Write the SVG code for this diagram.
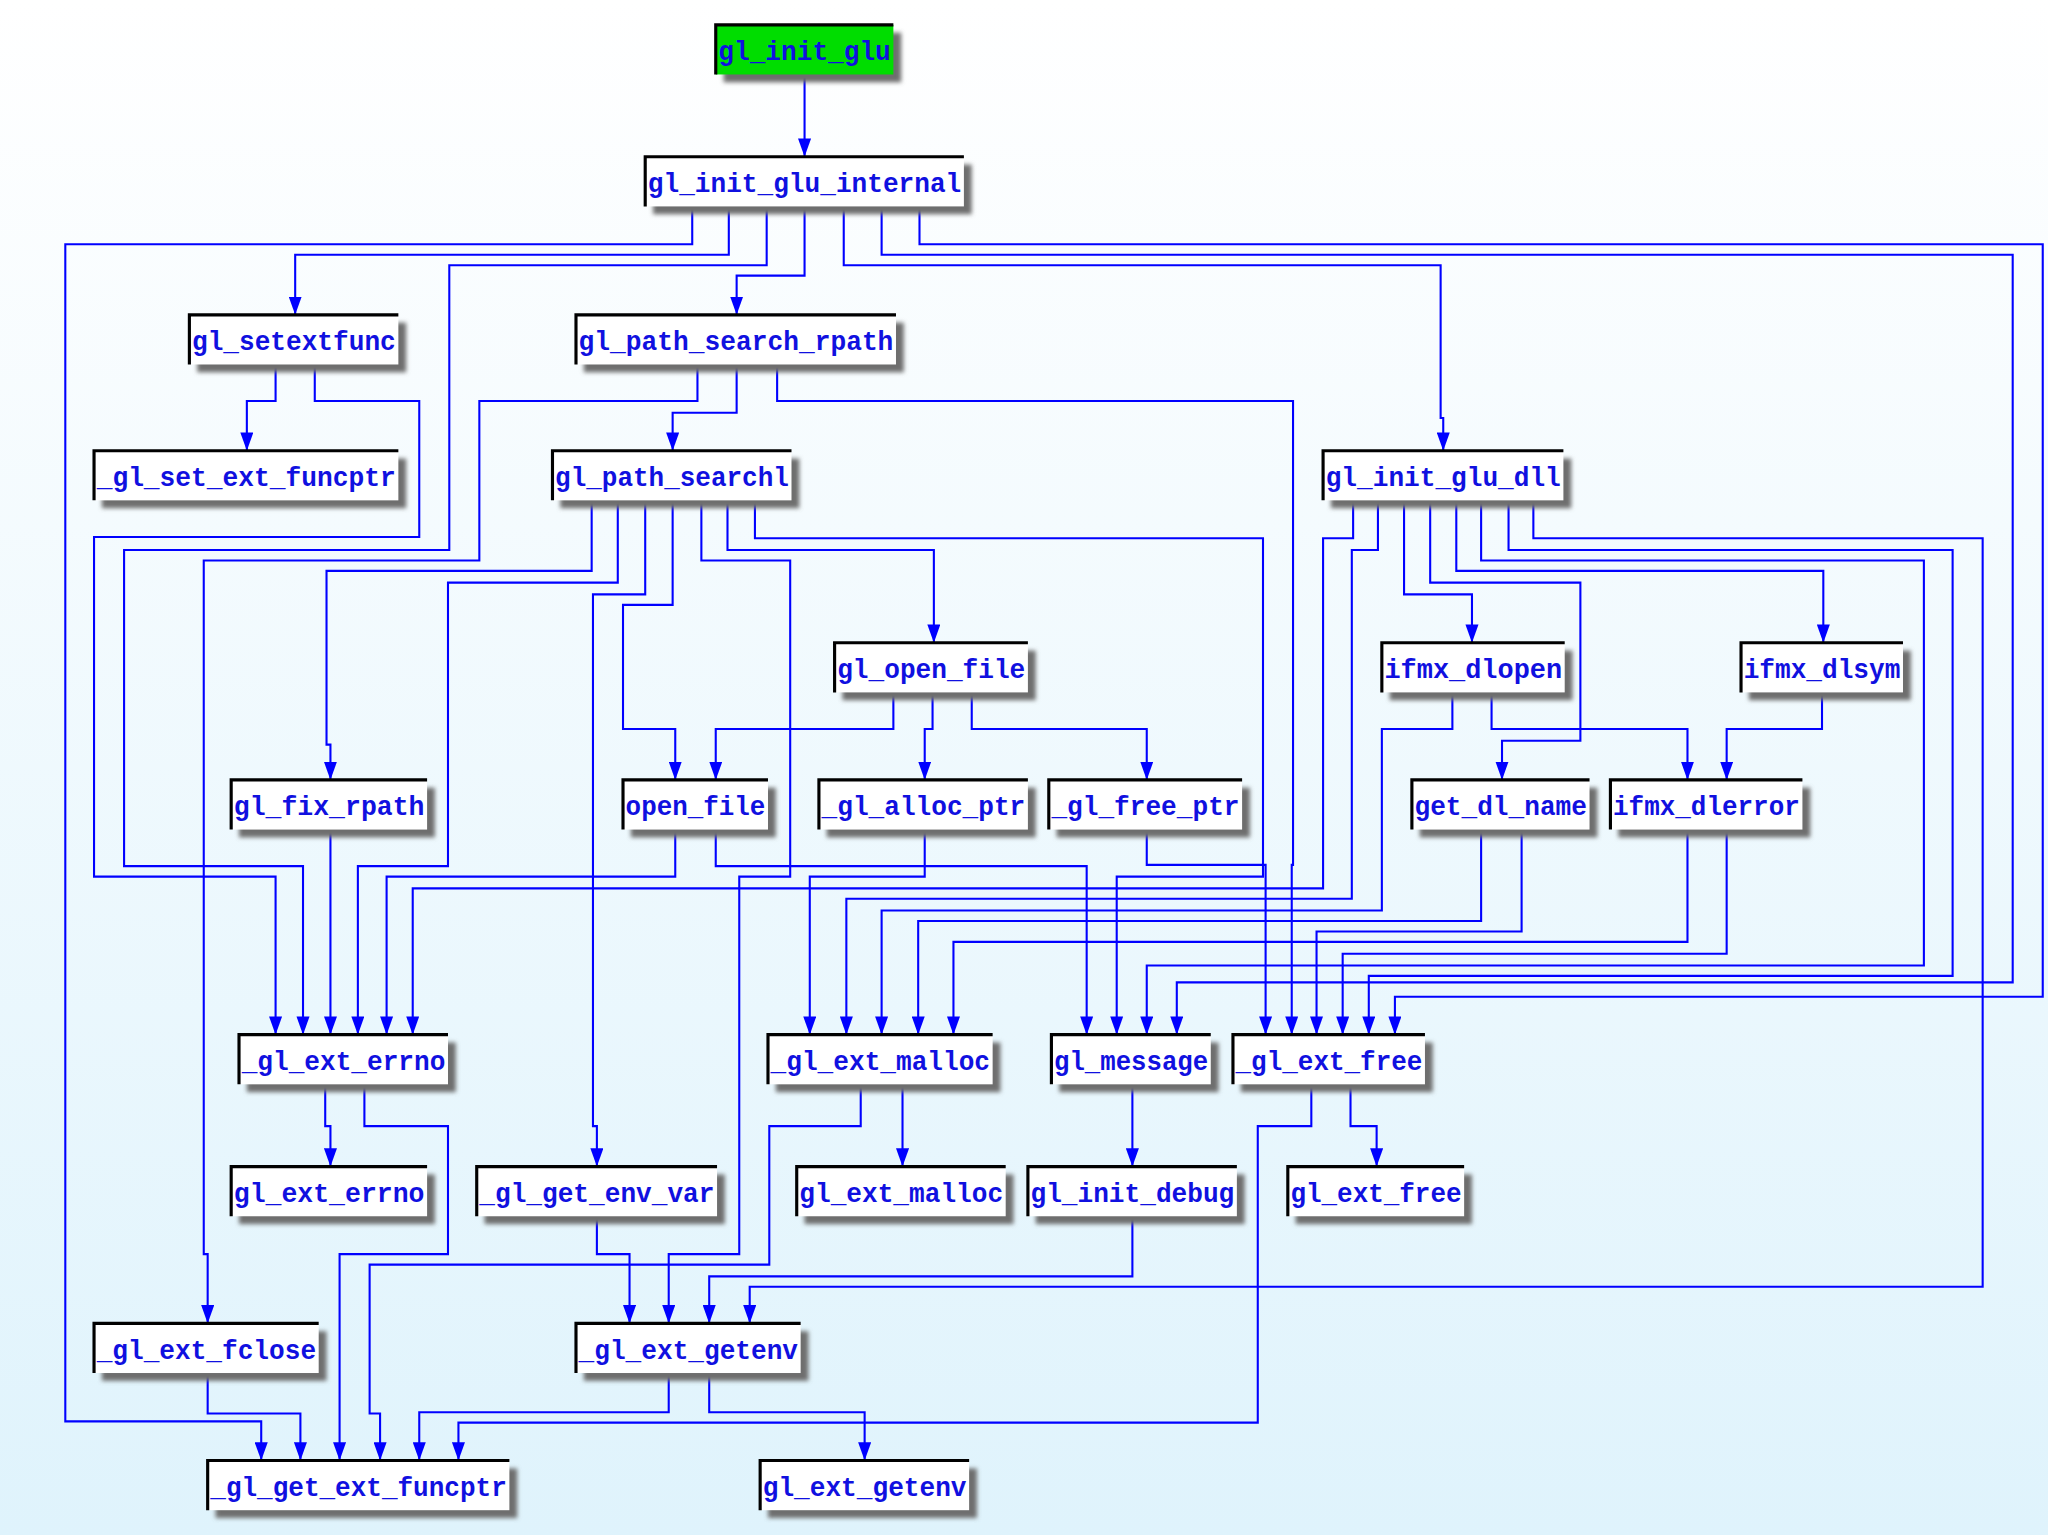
<svg xmlns="http://www.w3.org/2000/svg" width="2048" height="1535" viewBox="0 0 2048 1535">
<defs>
<linearGradient id="bg" x1="0" y1="0" x2="0" y2="1"><stop offset="0" stop-color="#ffffff"/><stop offset="1" stop-color="#dff3fc"/></linearGradient>
<marker id="ar" viewBox="0 0 10 14" refX="5" refY="14" markerWidth="10" markerHeight="14" orient="auto-start-reverse" markerUnits="userSpaceOnUse"><path d="M0,0 L10,0 L5,14 Z" fill="#0000ff" transform="rotate(-90 5 7) translate(-2 2)"/></marker>
<marker id="a" viewBox="0 0 14 10" refX="14" refY="5" markerWidth="14" markerHeight="10" orient="auto" markerUnits="userSpaceOnUse"><path d="M0,0 L14,5 L0,10 Z" fill="#0000ff"/></marker>
<filter id="sh" x="-10%" y="-10%" width="130%" height="160%"><feGaussianBlur stdDeviation="1.5"/></filter>
</defs>
<style>
.e path{fill:none;stroke:#0000ff;stroke-width:1.6;marker-end:url(#a)}
.s{fill:#6e6e6e;filter:url(#sh)}
.b{fill:#ffffff;stroke:none}
.k{fill:none;stroke:#000;stroke-width:2.4}
.t{font-family:"Liberation Mono",monospace;font-weight:bold;font-size:21px;fill:#1010e0}
</style>
<rect width="2048" height="1535" fill="url(#bg)"/>
<g transform="scale(1.3061,1.3064)">
<g class="e">
<path d="M616,57 V120"/>
<path d="M530,157 V187 H50 V1088 H200 V1118"/>
<path d="M558,157 V195 H226 V241"/>
<path d="M587,157 V203 H344 V421 H95 V663 H232 V792"/>
<path d="M616,157 V211 H564 V241"/>
<path d="M646,157 V203 H1103 V320 H1105 V345"/>
<path d="M675,157 V195 H1541 V752 H901 V792"/>
<path d="M704,157 V187 H1564 V763 H1068 V792"/>
<path d="M211,278 V307 H189 V345"/>
<path d="M241,278 V307 H321 V411 H72 V671 H211 V792"/>
<path d="M534,278 V307 H367 V429 H156 V960 H159 V1013"/>
<path d="M564,278 V316 H515 V345"/>
<path d="M595,278 V307 H990 V662 H989 V792"/>
<path d="M453,383 V437 H250 V570 H253 V597"/>
<path d="M473,383 V446 H343 V663 H274 V792"/>
<path d="M494,383 V455 H454 V862 H457 V893"/>
<path d="M515,383 V463 H477 V558 H517 V597"/>
<path d="M537,383 V429 H605 V671 H566 V960 H512 V1013"/>
<path d="M557,383 V421 H715 V492"/>
<path d="M578,383 V412 H967 V671 H855 V792"/>
<path d="M684,530 V558 H548 V597"/>
<path d="M714,530 V558 H708 V597"/>
<path d="M744,530 V558 H878 V597"/>
<path d="M517,635 V671 H296 V792"/>
<path d="M548,635 V663 H832 V792"/>
<path d="M708,635 V671 H620 V792"/>
<path d="M878,635 V662 H969 V792"/>
<path d="M1036,383 V412 H1013 V680 H316 V792"/>
<path d="M1055,383 V421 H1035 V688 H648 V792"/>
<path d="M1075,383 V455 H1127 V492"/>
<path d="M1095,383 V446 H1210 V567 H1150 V597"/>
<path d="M1115,383 V437 H1396 V492"/>
<path d="M1134,383 V429 H1473 V739 H878 V792"/>
<path d="M1155,383 V421 H1495 V747 H1048 V792"/>
<path d="M1174,383 V412 H1518 V985 H574 V1013"/>
<path d="M1112,530 V558 H1058 V697 H675 V792"/>
<path d="M1142,530 V558 H1292 V597"/>
<path d="M1395,530 V558 H1322 V597"/>
<path d="M1134,635 V705 H703 V792"/>
<path d="M1165,635 V713 H1008 V792"/>
<path d="M1292,635 V721 H730 V792"/>
<path d="M1322,635 V730 H1028 V792"/>
<path d="M253,635 V792"/>
<path d="M249,830 V862 H253 V893"/>
<path d="M279,830 V862 H343 V960 H260 V1118"/>
<path d="M457,931 V960 H482 V1013"/>
<path d="M659,830 V862 H589 V968 H283 V1082 H291 V1118"/>
<path d="M691,830 V862 H691 V893"/>
<path d="M867,830 V893"/>
<path d="M867,931 V977 H543 V1013"/>
<path d="M1004,830 V862 H963 V1089 H351 V1118"/>
<path d="M1034,830 V862 H1054 V893"/>
<path d="M159,1051 V1082 H230 V1118"/>
<path d="M512,1051 V1081 H321 V1118"/>
<path d="M543,1051 V1081 H662 V1118"/>
</g>
<g id="n1"><rect class="s" x="554" y="25" width="136" height="38"/><rect x="548" y="19" width="136" height="38" fill="#00dd00"/><path class="k" d="M548,57 V19 H684"/><text class="t" x="550" y="46" textLength="132" lengthAdjust="spacingAndGlyphs">gl_init_glu</text></g>
<g id="n2"><rect class="s" x="500" y="126" width="244" height="38"/><rect class="b" x="494" y="120" width="244" height="38"/><path class="k" d="M494,158 V120 H738"/><text class="t" x="496" y="147" textLength="240" lengthAdjust="spacingAndGlyphs">gl_init_glu_internal</text></g>
<g id="n3"><rect class="s" x="151" y="247" width="160" height="38"/><rect class="b" x="145" y="241" width="160" height="38"/><path class="k" d="M145,279 V241 H305"/><text class="t" x="147" y="268" textLength="156" lengthAdjust="spacingAndGlyphs">gl_setextfunc</text></g>
<g id="n4"><rect class="s" x="447" y="247" width="245" height="38"/><rect class="b" x="441" y="241" width="245" height="38"/><path class="k" d="M441,279 V241 H686"/><text class="t" x="443" y="268" textLength="241" lengthAdjust="spacingAndGlyphs">gl_path_search_rpath</text></g>
<g id="n5"><rect class="s" x="78" y="351" width="233" height="38"/><rect class="b" x="72" y="345" width="233" height="38"/><path class="k" d="M72,383 V345 H305"/><text class="t" x="74" y="372" textLength="229" lengthAdjust="spacingAndGlyphs">_gl_set_ext_funcptr</text></g>
<g id="n6"><rect class="s" x="429" y="351" width="183" height="38"/><rect class="b" x="423" y="345" width="183" height="38"/><path class="k" d="M423,383 V345 H606"/><text class="t" x="425" y="372" textLength="179" lengthAdjust="spacingAndGlyphs">gl_path_searchl</text></g>
<g id="n7"><rect class="s" x="1019" y="351" width="184" height="38"/><rect class="b" x="1013" y="345" width="184" height="38"/><path class="k" d="M1013,383 V345 H1197"/><text class="t" x="1015" y="372" textLength="180" lengthAdjust="spacingAndGlyphs">gl_init_glu_dll</text></g>
<g id="n8"><rect class="s" x="645" y="498" width="148" height="38"/><rect class="b" x="639" y="492" width="148" height="38"/><path class="k" d="M639,530 V492 H787"/><text class="t" x="641" y="519" textLength="144" lengthAdjust="spacingAndGlyphs">gl_open_file</text></g>
<g id="n9"><rect class="s" x="1064" y="498" width="140" height="38"/><rect class="b" x="1058" y="492" width="140" height="38"/><path class="k" d="M1058,530 V492 H1198"/><text class="t" x="1060" y="519" textLength="136" lengthAdjust="spacingAndGlyphs">ifmx_dlopen</text></g>
<g id="n10"><rect class="s" x="1339" y="498" width="124" height="38"/><rect class="b" x="1333" y="492" width="124" height="38"/><path class="k" d="M1333,530 V492 H1457"/><text class="t" x="1335" y="519" textLength="120" lengthAdjust="spacingAndGlyphs">ifmx_dlsym</text></g>
<g id="n11"><rect class="s" x="183" y="603" width="150" height="38"/><rect class="b" x="177" y="597" width="150" height="38"/><path class="k" d="M177,635 V597 H327"/><text class="t" x="179" y="624" textLength="146" lengthAdjust="spacingAndGlyphs">gl_fix_rpath</text></g>
<g id="n12"><rect class="s" x="483" y="603" width="111" height="38"/><rect class="b" x="477" y="597" width="111" height="38"/><path class="k" d="M477,635 V597 H588"/><text class="t" x="479" y="624" textLength="107" lengthAdjust="spacingAndGlyphs">open_file</text></g>
<g id="n13"><rect class="s" x="633" y="603" width="160" height="38"/><rect class="b" x="627" y="597" width="160" height="38"/><path class="k" d="M627,635 V597 H787"/><text class="t" x="629" y="624" textLength="156" lengthAdjust="spacingAndGlyphs">_gl_alloc_ptr</text></g>
<g id="n14"><rect class="s" x="809" y="603" width="148" height="38"/><rect class="b" x="803" y="597" width="148" height="38"/><path class="k" d="M803,635 V597 H951"/><text class="t" x="805" y="624" textLength="144" lengthAdjust="spacingAndGlyphs">_gl_free_ptr</text></g>
<g id="n15"><rect class="s" x="1087" y="603" width="136" height="38"/><rect class="b" x="1081" y="597" width="136" height="38"/><path class="k" d="M1081,635 V597 H1217"/><text class="t" x="1083" y="624" textLength="132" lengthAdjust="spacingAndGlyphs">get_dl_name</text></g>
<g id="n16"><rect class="s" x="1239" y="603" width="147" height="38"/><rect class="b" x="1233" y="597" width="147" height="38"/><path class="k" d="M1233,635 V597 H1380"/><text class="t" x="1235" y="624" textLength="143" lengthAdjust="spacingAndGlyphs">ifmx_dlerror</text></g>
<g id="n17"><rect class="s" x="189" y="798" width="160" height="38"/><rect class="b" x="183" y="792" width="160" height="38"/><path class="k" d="M183,830 V792 H343"/><text class="t" x="185" y="819" textLength="156" lengthAdjust="spacingAndGlyphs">_gl_ext_errno</text></g>
<g id="n18"><rect class="s" x="594" y="798" width="172" height="38"/><rect class="b" x="588" y="792" width="172" height="38"/><path class="k" d="M588,830 V792 H760"/><text class="t" x="590" y="819" textLength="168" lengthAdjust="spacingAndGlyphs">_gl_ext_malloc</text></g>
<g id="n19"><rect class="s" x="811" y="798" width="122" height="38"/><rect class="b" x="805" y="792" width="122" height="38"/><path class="k" d="M805,830 V792 H927"/><text class="t" x="807" y="819" textLength="118" lengthAdjust="spacingAndGlyphs">gl_message</text></g>
<g id="n20"><rect class="s" x="950" y="798" width="147" height="38"/><rect class="b" x="944" y="792" width="147" height="38"/><path class="k" d="M944,830 V792 H1091"/><text class="t" x="946" y="819" textLength="143" lengthAdjust="spacingAndGlyphs">_gl_ext_free</text></g>
<g id="n21"><rect class="s" x="183" y="899" width="150" height="38"/><rect class="b" x="177" y="893" width="150" height="38"/><path class="k" d="M177,931 V893 H327"/><text class="t" x="179" y="920" textLength="146" lengthAdjust="spacingAndGlyphs">gl_ext_errno</text></g>
<g id="n22"><rect class="s" x="371" y="899" width="184" height="38"/><rect class="b" x="365" y="893" width="184" height="38"/><path class="k" d="M365,931 V893 H549"/><text class="t" x="367" y="920" textLength="180" lengthAdjust="spacingAndGlyphs">_gl_get_env_var</text></g>
<g id="n23"><rect class="s" x="616" y="899" width="160" height="38"/><rect class="b" x="610" y="893" width="160" height="38"/><path class="k" d="M610,931 V893 H770"/><text class="t" x="612" y="920" textLength="156" lengthAdjust="spacingAndGlyphs">gl_ext_malloc</text></g>
<g id="n24"><rect class="s" x="793" y="899" width="160" height="38"/><rect class="b" x="787" y="893" width="160" height="38"/><path class="k" d="M787,931 V893 H947"/><text class="t" x="789" y="920" textLength="156" lengthAdjust="spacingAndGlyphs">gl_init_debug</text></g>
<g id="n25"><rect class="s" x="992" y="899" width="135" height="38"/><rect class="b" x="986" y="893" width="135" height="38"/><path class="k" d="M986,931 V893 H1121"/><text class="t" x="988" y="920" textLength="131" lengthAdjust="spacingAndGlyphs">gl_ext_free</text></g>
<g id="n26"><rect class="s" x="78" y="1019" width="172" height="38"/><rect class="b" x="72" y="1013" width="172" height="38"/><path class="k" d="M72,1051 V1013 H244"/><text class="t" x="74" y="1040" textLength="168" lengthAdjust="spacingAndGlyphs">_gl_ext_fclose</text></g>
<g id="n27"><rect class="s" x="447" y="1019" width="172" height="38"/><rect class="b" x="441" y="1013" width="172" height="38"/><path class="k" d="M441,1051 V1013 H613"/><text class="t" x="443" y="1040" textLength="168" lengthAdjust="spacingAndGlyphs">_gl_ext_getenv</text></g>
<g id="n28"><rect class="s" x="165" y="1124" width="231" height="38"/><rect class="b" x="159" y="1118" width="231" height="38"/><path class="k" d="M159,1156 V1118 H390"/><text class="t" x="161" y="1145" textLength="227" lengthAdjust="spacingAndGlyphs">_gl_get_ext_funcptr</text></g>
<g id="n29"><rect class="s" x="588" y="1124" width="160" height="38"/><rect class="b" x="582" y="1118" width="160" height="38"/><path class="k" d="M582,1156 V1118 H742"/><text class="t" x="584" y="1145" textLength="156" lengthAdjust="spacingAndGlyphs">gl_ext_getenv</text></g>
</g>
</svg>
